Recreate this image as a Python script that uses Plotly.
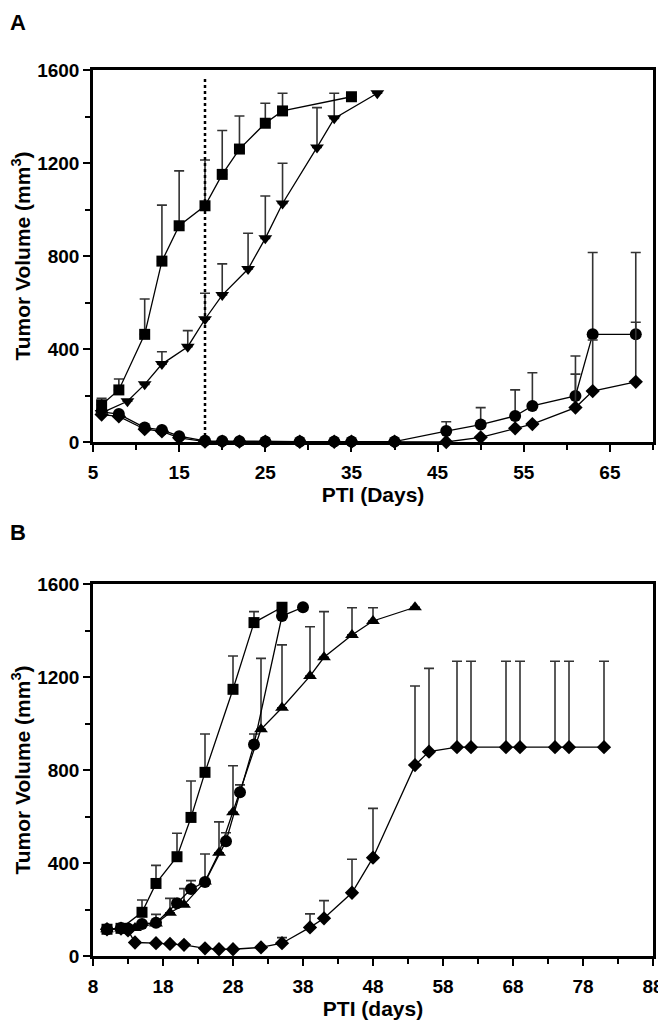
import plotly.graph_objects as go

# ---------------- Panel A data ----------------
a_sq_days = [6, 8, 11, 13, 15, 18, 20, 22, 25, 27, 35]
a_sq_vals = [160, 224, 463, 778, 930, 1016, 1151, 1260, 1371, 1424, 1485]
a_sq_top = [188, 271, 615, 1019, 1166, 1213, 1340, 1402, 1457, 1500, None]

a_tri_days = [6, 9, 11, 13, 16, 18, 20, 23, 25, 27, 31, 33, 38]
a_tri_vals = [125, 175, 248, 335, 410, 528, 632, 744, 876, 1026, 1267, 1392, 1500]
a_tri_top = [None, None, None, 388, 479, 640, 766, 898, 1058, 1199, 1438, 1500, None]

a_cir_days = [6, 8, 11, 13, 15, 18, 20, 22, 25, 29, 33, 35, 40, 46, 50, 54, 56, 61, 63, 68]
a_cir_vals = [130, 120, 62, 52, 25, 5, 4, 3, 2, 2, 2, 2, 2, 47, 75, 112, 155, 198, 463, 463]
a_cir_top = [None] * 13 + [87, 148, 224, 298, 370, 815, 815]

a_dia_days = [6, 8, 11, 13, 15, 18, 20, 22, 25, 29, 33, 35, 40, 46, 50, 54, 56, 61, 63, 68]
a_dia_vals = [118, 110, 55, 46, 18, 2, 2, 2, 1, 1, 1, 1, 1, 0, 20, 59, 77, 148, 219, 259]
a_dia_top = [None] * 17 + [292, 439, 515]

a_dotted_day = 18

# ---------------- Panel B data ----------------
b_sq_days = [10, 12, 15, 17, 20, 22, 24, 28, 31, 35]
b_sq_vals = [115, 119, 188, 312, 427, 596, 790, 1147, 1434, 1500]
b_sq_top = [None, None, 241, 390, 528, 753, 955, 1290, 1481, None]

b_cir_days = [10, 12, 13, 15, 17, 20, 22, 24, 27, 29, 31, 35, 38]
b_cir_vals = [115, 120, 118, 138, 143, 227, 288, 318, 494, 704, 910, 1462, 1500]
b_cir_top = [None, None, None, None, 179, None, 324, 439, 530, 736, 955, None, None]

b_tri_days = [10, 12, 14, 17, 19, 21, 24, 26, 28, 32, 35, 39, 41, 45, 48, 54]
b_tri_vals = [115, 118, 120, 140, 186, 220, 320, 444, 618, 975, 1068, 1204, 1285, 1381, 1441, 1500]
b_tri_top = [None, None, None, None, 248, 290, None, 577, 818, 1280, 1338, 1416, 1481, 1498, 1498, None]

b_dia_days = [10, 12, 13, 14, 17, 19, 21, 24, 26, 28, 32, 35, 39, 41, 45, 48,
              54, 56, 60, 62, 67, 69, 74, 76, 81]
b_dia_vals = [115, 118, 110, 58, 55, 52, 48, 33, 29, 29, 37, 55, 123, 162, 272, 423,
              821, 879, 898, 898, 898, 898, 898, 898, 898]
b_dia_top = [None] * 11 + [79, 181, 238, 416, 635,
                           1161, 1237, 1268, 1268, 1268, 1268, 1268, 1268, 1268]

# ---------------- Axis settings ----------------
a_xticks = [5, 15, 25, 35, 45, 55, 65]
b_xticks = [8, 18, 28, 38, 48, 58, 68, 78, 88]
y_ticks = [0, 400, 800, 1200, 1600]

FONT = "Liberation Sans, Arial, sans-serif"

# The page body has an 8px default margin, so the figure is laid out
# 8px smaller than the window and offset accordingly.
W, H = 658, 1015
ML, MR, MT, MB = 85, 13, 62, 67


def err_up(vals, tops):
    return [(t - v) if t is not None else 0 for v, t in zip(vals, tops)]


def series(days, vals, tops, symbol, size, xa, ya):
    return go.Scatter(
        x=days, y=vals, mode="lines+markers", xaxis=xa, yaxis=ya,
        line=dict(color="black", width=1.3),
        marker=dict(symbol=symbol, size=size, color="black"),
        error_y=dict(type="data", symmetric=False, array=err_up(vals, tops),
                     arrayminus=[0] * len(vals), color="#333333",
                     thickness=1.6, width=5),
        showlegend=False, hoverinfo="skip", cliponaxis=False,
    )


fig = go.Figure()
# Panel A
fig.add_trace(series(a_cir_days, a_cir_vals, a_cir_top, "circle", 12, "x", "y"))
fig.add_trace(series(a_dia_days, a_dia_vals, a_dia_top, "diamond", 11, "x", "y"))
fig.add_trace(series(a_tri_days, a_tri_vals, a_tri_top, "triangle-down", 12, "x", "y"))
fig.add_trace(series(a_sq_days, a_sq_vals, a_sq_top, "square", 11, "x", "y"))
# Panel B
fig.add_trace(series(b_dia_days, b_dia_vals, b_dia_top, "diamond", 11, "x2", "y2"))
fig.add_trace(series(b_tri_days, b_tri_vals, b_tri_top, "triangle-up", 12, "x2", "y2"))
fig.add_trace(series(b_cir_days, b_cir_vals, b_cir_top, "circle", 12, "x2", "y2"))
fig.add_trace(series(b_sq_days, b_sq_vals, b_sq_top, "square", 11, "x2", "y2"))

# dotted vertical line in A
fig.add_trace(go.Scatter(x=[a_dotted_day, a_dotted_day], y=[0, 1570], mode="lines",
                         xaxis="x", yaxis="y",
                         line=dict(color="black", width=2.5, dash="dot"),
                         showlegend=False, hoverinfo="skip"))

axis_common = dict(
    showline=True, linecolor="black", linewidth=2.5, mirror=True,
    ticks="outside", ticklen=7, tickwidth=2, tickcolor="black",
    showgrid=False, zeroline=False, automargin=False,
    tickfont=dict(family=FONT, size=19, color="black", weight="bold"),
    title_font=dict(family=FONT, size=21, color="black", weight="bold"),
)
minor_x = dict(dtick=5, ticks="outside", ticklen=5, tickwidth=2, tickcolor="black")
minor_y = dict(dtick=200, tick0=0, ticks="outside", ticklen=5, tickwidth=2, tickcolor="black")

ytitle = "Tumor Volume (mm<sup>3</sup>)"

# domains from pixel positions of the plot boxes
plot_h = H - MT - MB
plot_w = W - ML - MR
a_bottom = (948 - 434) / plot_h
b_top = (948 - 576) / plot_h

fig.update_layout(
    width=W, height=H,
    margin=dict(l=ML, r=MR, t=MT, b=MB),
    paper_bgcolor="white", plot_bgcolor="white",
    xaxis=dict(domain=[0, 1], anchor="y", range=[5, 70], tickvals=a_xticks,
               minor=dict(tick0=0, **minor_x), ticklabelstandoff=4,
               title=dict(text="PTI (Days)", standoff=0), **axis_common),
    yaxis=dict(domain=[a_bottom, 1], anchor="x", range=[0, 1600], tickvals=y_ticks,
               minor=minor_y,
               title=dict(text=ytitle, standoff=6), **axis_common),
    xaxis2=dict(domain=[0, 1], anchor="y2", range=[8, 88], tickvals=b_xticks,
                minor=dict(tick0=3, **minor_x), ticklabelstandoff=4,
                title=dict(text="PTI (days)", standoff=0), **axis_common),
    yaxis2=dict(domain=[0, b_top], anchor="x2", range=[0, 1600], tickvals=y_ticks,
                minor=minor_y,
                title=dict(text=ytitle, standoff=6), **axis_common),
)

# panel letters (top-left corners in figure pixels)
for letter, px, py in (("A", 0, 0), ("B", 0, 510)):
    fig.add_annotation(text="<b>%s</b>" % letter, xref="paper", yref="paper",
                       x=(px - ML) / plot_w, y=(H - MB - py) / plot_h,
                       xanchor="left", yanchor="top", showarrow=False,
                       font=dict(family=FONT, size=22, color="black"))

fig.write_html("out.html")
